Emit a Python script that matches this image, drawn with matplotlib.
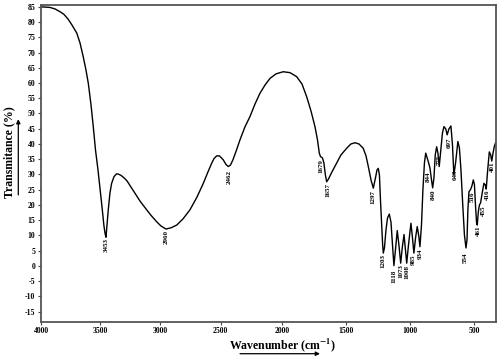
import numpy as np
import matplotlib
matplotlib.use("Agg")
import matplotlib.pyplot as plt

plt.rcParams['font.family'] = ['Liberation Serif', 'DejaVu Serif']
plt.rcParams['font.weight'] = 'bold'
plt.rcParams['mathtext.fontset'] = 'stix'

# ---- FTIR spectrum (wavenumber cm-1, transmittance %) ----
wavenumber = [4000, 3966, 3924, 3881, 3839, 3805, 3771, 3737, 3697, 3669,
              3642, 3619, 3599, 3576, 3557, 3538, 3517, 3500, 3483, 3467,
              3457, 3450, 3442, 3431, 3417, 3403, 3383, 3362, 3346, 3325,
              3300, 3275, 3242, 3208, 3167, 3111, 3075, 3028, 2992, 2951,
              2909, 2862, 2811, 2753, 2695, 2643, 2605, 2574, 2555, 2533,
              2510, 2479, 2457, 2438, 2420, 2400, 2371, 2343, 2302, 2261,
              2220, 2180, 2139, 2098, 2049, 1990, 1937, 1885, 1843, 1806,
              1772, 1741, 1721, 1707, 1698, 1682, 1671, 1659, 1649, 1635,
              1608, 1571, 1537, 1492, 1459, 1427, 1396, 1363, 1341, 1323,
              1302, 1284, 1267, 1255, 1245, 1236, 1228, 1219, 1211, 1206,
              1197, 1185, 1173, 1159, 1146, 1134, 1123, 1111, 1097, 1084,
              1070, 1058, 1044, 1033, 1023, 1009, 990, 978, 967, 954,
              941, 929, 920, 908, 897, 885, 875, 866, 855, 842,
              830, 821, 811, 801, 790, 780, 770, 758, 745, 733,
              719, 708, 695, 679, 667, 656, 642, 625, 613, 601,
              587, 574, 562, 554, 547, 539, 526, 516, 505, 496,
              488, 480, 474, 466, 457, 448, 434, 422, 412, 404,
              394, 380, 369, 361, 351, 340, 328]
transmittance = [85.0, 84.9, 84.8, 84.3, 83.4, 82.5, 81.0, 79.0, 76.4, 73.1,
                 68.6, 64.3, 59.9, 52.8, 45.7, 38.0, 31.5, 25.6, 19.3, 13.1,
                 10.5, 9.4, 13.1, 18.4, 23.9, 27.1, 29.3, 30.2, 30.1, 29.7,
                 28.9, 27.9, 25.9, 23.8, 21.3, 18.4, 16.6, 14.5, 13.1, 12.1,
                 12.5, 13.4, 15.4, 18.4, 22.6, 27.1, 30.8, 33.7, 35.2, 36.1,
                 36.1, 34.8, 33.3, 32.6, 33.1, 34.8, 38.0, 41.3, 45.6, 49.0,
                 53.1, 56.6, 59.3, 61.5, 63.0, 63.7, 63.4, 62.1, 59.7, 55.5,
                 50.8, 45.7, 41.3, 37.0, 35.9, 35.4, 33.8, 29.8, 27.6, 28.5,
                 30.8, 33.7, 36.4, 38.6, 40.0, 40.4, 40.0, 38.6, 36.1, 32.6,
                 28.2, 25.5, 28.9, 31.5, 32.0, 29.8, 21.6, 13.4, 6.9, 4.2,
                 5.9, 11.8, 15.7, 17.0, 14.4, 6.9, 0.1, 5.2, 11.6, 6.9,
                 0.9, 5.9, 10.3, 5.2, 0.9, 6.9, 14.0, 9.2, 4.2, 9.2,
                 12.9, 9.8, 6.3, 13.4, 24.9, 33.8, 37.0, 35.7, 34.2, 32.1,
                 28.2, 25.6, 28.9, 36.4, 39.1, 37.0, 32.6, 38.0, 43.6, 45.7,
                 44.9, 43.0, 44.9, 45.9, 39.7, 29.8, 34.1, 40.8, 38.7, 31.5,
                 20.0, 10.2, 5.9, 8.5, 18.4, 24.3, 25.1, 26.2, 28.2, 26.6,
                 20.0, 14.4, 13.4, 17.7, 20.0, 20.7, 24.3, 27.1, 26.6, 25.2,
                 30.8, 37.4, 36.4, 34.4, 37.0, 39.3, 40.7]

# ---- peak annotations ----
peak_labels = ["3453", "2960", "2462", "1679", "1657", "1297", "1203", "1118",
               "1073", "1008", "985", "934", "844", "840", "775", "697",
               "649", "554", "516", "461", "455", "416", "401"]
peak_label_x = [3450, 2951, 2432, 1696, 1636, 1284, 1206, 1126,
                1072, 1023, 972, 914, 858, 819, 769, 695,
                648, 566, 517, 466, 427, 398, 355]
peak_label_y = [9.2, 11.8, 31.5, 35.1, 27.2, 24.9, 3.9, -1.3,
                0.7, 0.3, 3.9, 5.6, 31.1, 25.2, 36.4, 42.0,
                31.5, 4.3, 24.3, 13.4, 19.7, 25.2, 34.1]

x_ticks = [4000, 3500, 3000, 2500, 2000, 1500, 1000, 500]
y_ticks = list(range(-15, 86, 5))

# The reference axis has slightly uneven tick spacing; reproduce it with a
# piecewise-linear function scale.
scale_wn = np.array([0, 500, 1000, 1500, 2000, 2500, 3000, 3500, 4000, 4500], float)
scale_pos = np.array([0, 64, 128.3, 192.3, 256, 317.3, 378, 438, 497, 556], float)

def fwd(x):
    return np.interp(np.asarray(x, float), scale_wn, scale_pos)

def inv(g):
    return np.interp(np.asarray(g, float), scale_pos, scale_wn)

fig = plt.figure(figsize=(5.0, 3.61), dpi=100)
ax = fig.add_axes([0.082, 0.1089, 0.9094, 0.8773])
ax.set_xscale('function', functions=(fwd, inv))

ax.plot(wavenumber, transmittance, color='black', lw=1.0)

for t, x, y in zip(peak_labels, peak_label_x, peak_label_y):
    ax.text(x, y, t, rotation=90, ha='center', va='top',
            fontsize=5.0, fontweight='bold')

ax.set_xlim(4000, 330)
ax.set_ylim(-18.3, 85.6)
ax.set_xticks(x_ticks)
ax.set_xticklabels([str(v) for v in x_ticks])
ax.xaxis.set_minor_locator(matplotlib.ticker.NullLocator())
ax.set_yticks(y_ticks)
ax.set_yticklabels([str(v) for v in y_ticks])
ax.tick_params(direction='out', length=2.5, width=0.8, labelsize=5.6,
               pad=1.5, color='#444444')
for lab in ax.get_xticklabels() + ax.get_yticklabels():
    lab.set_fontweight('bold')
for sp in ax.spines.values():
    sp.set_color('#555555')
    sp.set_linewidth(1.3)

# axis titles with arrows
fig.text(0.0186, 0.579, 'Transmitance (%)', rotation=90, ha='center',
         va='center', fontsize=8.5, fontweight='bold')
fig.text(0.564, 0.0443, r'Wavenumber (cm$^{\mathbf{-1}}$)', ha='center',
         va='center', fontsize=8.5, fontweight='bold')
arrow = dict(arrowstyle='-|>', color='black', lw=0.9, mutation_scale=6,
             shrinkA=0, shrinkB=0)
fig.add_artist(matplotlib.patches.FancyArrowPatch((0.0366, 0.460), (0.0366, 0.670),
               transform=fig.transFigure, **arrow))
fig.add_artist(matplotlib.patches.FancyArrowPatch((0.48, 0.0202), (0.64, 0.0202),
               transform=fig.transFigure, **arrow))

fig.savefig('out.png', dpi=100)
